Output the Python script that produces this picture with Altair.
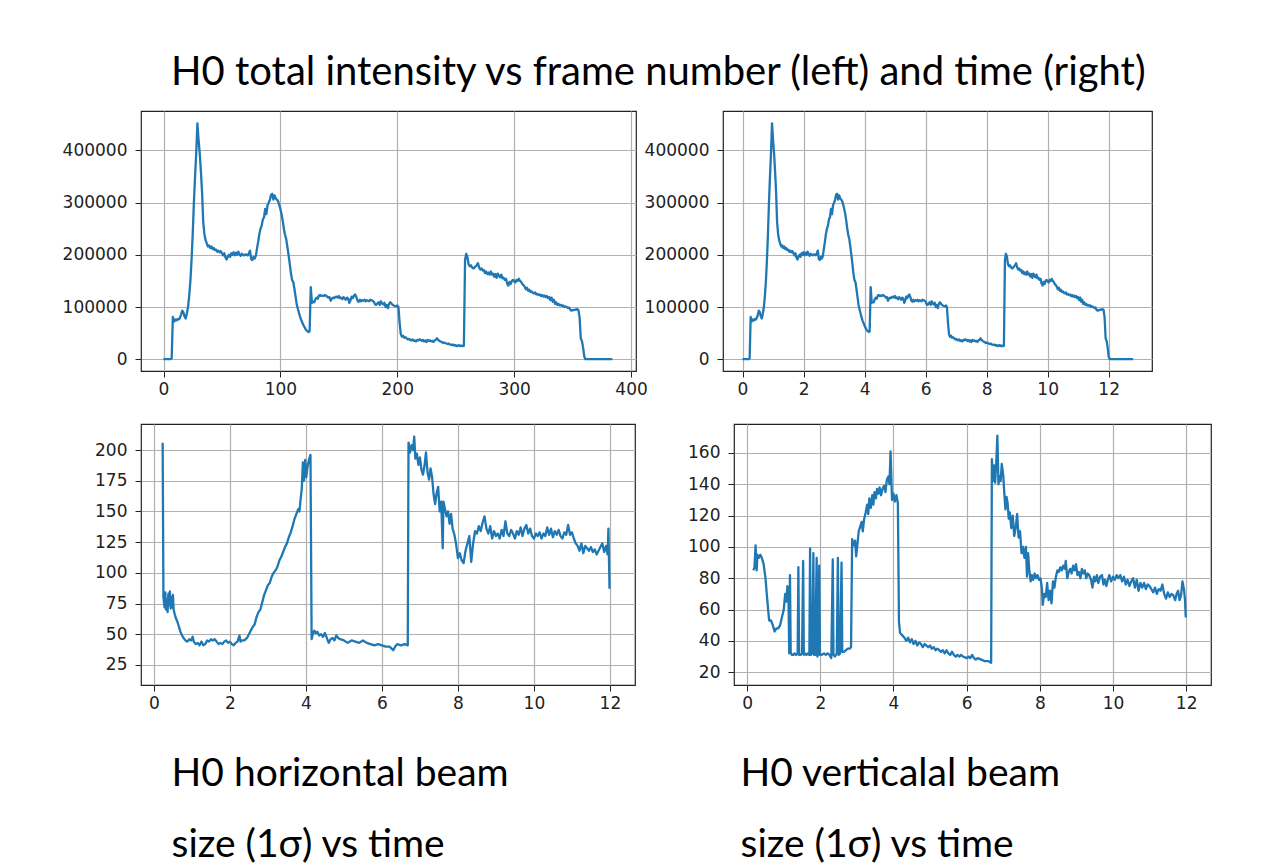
import altair as alt
import pandas as pd

# ---------------- data ----------------
FPS = 30  # frames per second (frame 384 <-> 12.8 s)

# H0 total intensity, one value per frame (frame = index)
intensity = [
    0, 0, 0, 0, 0, 0, 0, 2000, 81000, 72000,
    76000, 74000, 77000, 76000, 79000, 85000, 93000, 90000, 82000, 78000,
    88000, 100000, 122000, 150000, 190000, 240000, 300000, 350000, 395000, 452000,
    420000, 395000, 360000, 320000, 262000, 240000, 228000, 222000, 216000, 218000,
    213000, 216000, 211000, 213000, 209000, 210000, 206000, 208000, 205000, 207000,
    203000, 199000, 203000, 195000, 191000, 197000, 200000, 196000, 203000, 200000,
    205000, 199000, 204000, 200000, 206000, 201000, 198000, 202000, 200000, 199000,
    201000, 200000, 199000, 203000, 208000, 192000, 190000, 196000, 193000, 198000,
    212000, 225000, 240000, 250000, 256000, 268000, 272000, 288000, 278000, 295000,
    300000, 305000, 315000, 317000, 306000, 314000, 308000, 306000, 303000, 296000,
    288000, 278000, 265000, 250000, 238000, 230000, 215000, 200000, 183000, 165000,
    152000, 148000, 135000, 120000, 105000, 96000, 88000, 80000, 74000, 69000,
    64000, 60000, 56000, 54000, 52000, 53000, 138000, 108000, 110000, 109000,
    115000, 118000, 116000, 122000, 123000, 121000, 122000, 121000, 123000, 122000,
    120000, 118000, 119000, 112000, 116000, 118000, 117000, 119000, 120000, 118000,
    121000, 117000, 118000, 115000, 119000, 116000, 114000, 118000, 116000, 108000,
    113000, 120000, 117000, 122000, 124000, 119000, 112000, 110000, 114000, 111000,
    113000, 112000, 114000, 111000, 113000, 112000, 111000, 114000, 113000, 112000,
    110000, 105000, 104000, 107000, 109000, 104000, 111000, 107000, 105000, 108000,
    100000, 104000, 98000, 106000, 109000, 107000, 104000, 103000, 102000, 101000,
    103000, 100000, 70000, 48000, 43000, 45000, 41000, 42000, 40000, 38000,
    39000, 37000, 36000, 38000, 35000, 36000, 34000, 37000, 36000, 38000,
    37000, 35000, 37000, 34000, 36000, 33000, 37000, 35000, 36000, 34000,
    35000, 33000, 36000, 37000, 40000, 37000, 35000, 34000, 33000, 31000,
    32000, 31000, 30000, 29000, 30000, 28000, 28000, 27000, 28000, 26000,
    27000, 25000, 26000, 27000, 25000, 26000, 25000, 26000, 190000, 202000,
    196000, 182000, 178000, 180000, 176000, 174000, 175000, 178000, 180000, 184000,
    176000, 172000, 174000, 170000, 171000, 165000, 168000, 163000, 166000, 162000,
    168000, 162000, 164000, 158000, 163000, 156000, 164000, 160000, 157000, 162000,
    155000, 156000, 152000, 154000, 145000, 141000, 148000, 144000, 150000, 152000,
    149000, 147000, 152000, 150000, 154000, 150000, 148000, 144000, 142000, 139000,
    134000, 137000, 131000, 133000, 129000, 130000, 127000, 126000, 128000, 124000,
    125000, 123000, 124000, 121000, 123000, 120000, 122000, 119000, 121000, 117000,
    119000, 113000, 118000, 110000, 114000, 106000, 109000, 104000, 106000, 103000,
    104000, 102000, 103000, 100000, 101000, 100000, 98000, 99000, 95000, 93000,
    94000, 94000, 95000, 95000, 96000, 94000, 80000, 40000, 35000, 22000,
    5000, 0, 0, 0, 0, 0, 0, 0, 0, 0,
    0, 0, 0, 0, 0, 0, 0, 0, 0, 0,
    0, 0, 0, 0, 0,
]
frames = list(range(len(intensity)))
times = [f / FPS for f in frames]

# H0 horizontal beam size (1 sigma) vs time
h_time = [
    0.23, 0.25, 0.28, 0.30, 0.32, 0.34, 0.36, 0.38, 0.40, 0.42, 0.44, 0.46, 0.48, 0.50, 0.52,
    0.55, 0.58, 0.62, 0.66, 0.70, 0.74, 0.78, 0.83, 0.88, 0.93, 0.98, 1.02, 1.05, 1.10, 1.15,
    1.20, 1.25, 1.30, 1.35, 1.40, 1.45, 1.50, 1.55, 1.60, 1.65, 1.70, 1.75, 1.80, 1.85, 1.90,
    1.95, 2.00, 2.05, 2.10, 2.15, 2.20, 2.25, 2.28, 2.32, 2.38, 2.45, 2.50, 2.55, 2.60, 2.65,
    2.70, 2.75, 2.80, 2.85, 2.90, 2.95, 3.00, 3.05, 3.10, 3.15, 3.20, 3.25, 3.30, 3.35, 3.40,
    3.45, 3.50, 3.55, 3.60, 3.65, 3.70, 3.75, 3.80, 3.83, 3.86, 3.89, 3.92, 3.95, 3.98, 4.01,
    4.04, 4.08, 4.12, 4.15, 4.18, 4.22, 4.26, 4.30, 4.35, 4.40, 4.45, 4.50, 4.55, 4.60, 4.65,
    4.70, 4.75, 4.80, 4.85, 4.90, 5.00, 5.10, 5.20, 5.30, 5.40, 5.50, 5.60, 5.70, 5.80, 5.90,
    6.00, 6.10, 6.20, 6.30, 6.35, 6.40, 6.50, 6.60, 6.68, 6.70, 6.74, 6.78, 6.82, 6.85, 6.88,
    6.92, 6.96, 7.00, 7.04, 7.08, 7.12, 7.16, 7.20, 7.24, 7.28, 7.32, 7.36, 7.40, 7.44, 7.48,
    7.52, 7.56, 7.60, 7.62, 7.66, 7.70, 7.74, 7.78, 7.82, 7.86, 7.90, 7.95, 8.00, 8.05, 8.10,
    8.15, 8.20, 8.25, 8.30, 8.35, 8.40, 8.45, 8.50, 8.55, 8.60, 8.65, 8.70, 8.75, 8.80, 8.85,
    8.90, 8.95, 9.00, 9.05, 9.10, 9.15, 9.20, 9.25, 9.30, 9.35, 9.40, 9.45, 9.50, 9.55, 9.60,
    9.65, 9.70, 9.75, 9.80, 9.85, 9.90, 9.95, 10.00, 10.05, 10.10, 10.15, 10.20, 10.25, 10.30, 10.35,
    10.40, 10.45, 10.50, 10.55, 10.60, 10.65, 10.70, 10.75, 10.80, 10.85, 10.90, 10.95, 11.00, 11.05, 11.10,
    11.15, 11.20, 11.25, 11.30, 11.35, 11.40, 11.45, 11.50, 11.55, 11.60, 11.65, 11.70, 11.75, 11.80, 11.85,
    11.90, 11.94, 11.96, 11.99,
]
h_size = [
    206, 80, 72, 84, 70, 78, 68, 83, 74, 85, 71, 80, 72, 82, 70,
    66, 63, 60, 56, 52, 49, 47, 45, 44, 46, 45, 48, 44, 42, 43,
    41, 44, 41, 42, 45, 44, 46, 45, 46, 44, 42, 43, 42, 44, 45,
    43, 44, 42, 41, 43, 44, 49, 44, 45, 45, 47, 50, 53, 56, 58,
    64, 68, 70, 76, 82, 86, 90, 92, 97, 100, 102, 105, 110, 113, 117,
    121, 124, 129, 133, 138, 144, 148, 152, 150, 160, 168, 190, 175, 192, 178,
    186, 192, 196, 46, 50, 53, 51, 52, 49, 50, 48, 51, 47, 43, 46,
    47, 45, 49, 47, 46, 45, 43, 45, 44, 43, 45, 43, 42, 41, 42,
    41, 40, 40, 37, 40, 42, 41, 42, 41, 206, 198, 204, 200, 211, 193,
    197, 188, 194, 184, 180, 187, 198, 182, 176, 185, 178, 164, 156, 165, 170,
    150, 158, 120, 158, 152, 146, 150, 140, 148, 136, 132, 124, 112, 116, 110,
    108, 118, 124, 130, 109, 124, 134, 132, 138, 134, 141, 146, 136, 132, 138,
    128, 134, 130, 132, 128, 135, 130, 142, 132, 130, 135, 132, 128, 134, 131,
    137, 130, 136, 139, 132, 136, 130, 128, 132, 130, 133, 128, 132, 130, 137,
    131, 136, 129, 134, 131, 135, 130, 128, 133, 131, 139, 131, 133, 128, 124,
    122, 118, 124, 116, 122, 120, 118, 121, 117, 119, 115, 118, 121, 124, 117,
    122, 115, 136, 87,
]

# H0 vertical beam size (1 sigma) vs time
v_time = [
    0.17, 0.20, 0.23, 0.26, 0.28, 0.32, 0.36, 0.40, 0.45, 0.50, 0.55, 0.60, 0.65, 0.70, 0.75,
    0.80, 0.85, 0.90, 0.95, 1.00, 1.04, 1.07, 1.10, 1.13, 1.15, 1.17, 1.19, 1.22, 1.26, 1.30,
    1.34, 1.38, 1.40, 1.42, 1.46, 1.50, 1.53, 1.55, 1.58, 1.62, 1.66, 1.70, 1.72, 1.74, 1.78,
    1.81, 1.83, 1.86, 1.90, 1.92, 1.95, 1.97, 1.99, 2.03, 2.10, 2.15, 2.20, 2.25, 2.30, 2.34,
    2.36, 2.40, 2.45, 2.48, 2.50, 2.54, 2.58, 2.60, 2.65, 2.70, 2.75, 2.80, 2.84, 2.87, 2.91,
    2.95, 2.98, 3.02, 3.05, 3.09, 3.13, 3.16, 3.20, 3.24, 3.28, 3.31, 3.34, 3.38, 3.42, 3.45,
    3.48, 3.52, 3.55, 3.59, 3.62, 3.66, 3.70, 3.74, 3.78, 3.82, 3.86, 3.89, 3.92, 3.96, 4.00,
    4.04, 4.08, 4.12, 4.15, 4.18, 4.22, 4.26, 4.30, 4.35, 4.40, 4.45, 4.50, 4.55, 4.60, 4.65,
    4.70, 4.75, 4.80, 4.85, 4.90, 4.95, 5.00, 5.05, 5.10, 5.15, 5.20, 5.25, 5.30, 5.35, 5.40,
    5.45, 5.50, 5.55, 5.60, 5.65, 5.70, 5.75, 5.80, 5.85, 5.90, 6.00, 6.05, 6.10, 6.15, 6.20,
    6.25, 6.30, 6.40, 6.50, 6.60, 6.67, 6.69, 6.72, 6.75, 6.78, 6.81, 6.84, 6.87, 6.90, 6.93,
    6.96, 7.00, 7.03, 7.06, 7.09, 7.12, 7.15, 7.18, 7.22, 7.26, 7.30, 7.34, 7.38, 7.42, 7.46,
    7.50, 7.54, 7.58, 7.62, 7.65, 7.68, 7.71, 7.75, 7.78, 7.82, 7.86, 7.90, 7.94, 7.98, 8.02,
    8.06, 8.08, 8.12, 8.16, 8.20, 8.24, 8.28, 8.32, 8.36, 8.40, 8.44, 8.48, 8.52, 8.56, 8.60,
    8.64, 8.68, 8.71, 8.75, 8.79, 8.83, 8.87, 8.91, 8.95, 8.99, 9.03, 9.07, 9.11, 9.15, 9.19,
    9.23, 9.27, 9.31, 9.35, 9.40, 9.44, 9.48, 9.52, 9.56, 9.60, 9.65, 9.70, 9.74, 9.78, 9.82,
    9.86, 9.90, 9.95, 10.00, 10.05, 10.10, 10.15, 10.20, 10.25, 10.30, 10.35, 10.40, 10.45, 10.50, 10.55,
    10.60, 10.65, 10.70, 10.75, 10.80, 10.85, 10.90, 10.95, 11.00, 11.05, 11.10, 11.15, 11.20, 11.25, 11.30,
    11.35, 11.40, 11.45, 11.50, 11.55, 11.60, 11.65, 11.70, 11.74, 11.78, 11.82, 11.86, 11.90, 11.94, 11.97,
    11.99,
]
v_size = [
    85, 87, 101, 85, 95, 93, 95, 93, 89, 80, 66, 53, 53, 50, 46,
    48, 48, 50, 55, 60, 70, 65, 75, 68, 32, 82, 33, 31, 31, 32,
    31, 32, 87, 31, 31, 32, 91, 31, 32, 31, 32, 31, 99, 31, 32,
    96, 31, 31, 93, 30, 33, 88, 31, 31, 32, 31, 32, 31, 29, 92,
    31, 30, 32, 93, 31, 32, 90, 33, 33, 34, 35, 35, 36, 105, 101,
    104, 94, 103, 110, 113, 116, 110, 118, 122, 127, 121, 131, 125, 133, 127,
    135, 131, 137, 134, 138, 133, 137, 139, 135, 143, 145, 140, 161, 130, 134,
    129, 133, 128, 52, 45, 44, 43, 42, 40, 42, 39, 41, 38, 40, 37,
    39, 38, 36, 38, 37, 36, 37, 35, 36, 34, 35, 34, 33, 34, 32,
    34, 32, 31, 33, 31, 30, 31, 30, 31, 30, 29, 30, 29, 31, 29,
    28, 29, 28, 27, 27, 26, 156, 142, 152, 141, 154, 171, 140, 145, 142,
    153, 146, 134, 124, 132, 128, 118, 122, 112, 120, 107, 112, 121, 106, 110,
    96, 100, 93, 100, 81, 96, 86, 78, 82, 79, 83, 80, 82, 79, 80,
    73, 63, 70, 68, 77, 66, 72, 64, 78, 74, 81, 85, 84, 87, 85,
    88, 86, 91, 80, 84, 86, 83, 88, 85, 89, 82, 84, 80, 86, 83,
    85, 80, 83, 82, 79, 74, 81, 78, 82, 77, 81, 82, 76, 79, 75,
    79, 82, 78, 81, 79, 82, 80, 82, 78, 81, 76, 79, 75, 78, 80,
    74, 79, 72, 77, 74, 77, 73, 76, 75, 73, 71, 74, 70, 73, 72,
    76, 70, 67, 71, 68, 70, 69, 66, 70, 72, 66, 69, 78, 73, 66,
    55,
]

# tick values
frame_ticks = [0, 100, 200, 300, 400]
time_ticks = [0, 2, 4, 6, 8, 10, 12]
int_ticks = [0, 100000, 200000, 300000, 400000]
h_ticks = [25, 50, 75, 100, 125, 150, 175, 200]
v_ticks = [20, 40, 60, 80, 100, 120, 140, 160]

TITLE = "H0 total intensity vs frame number (left) and time (right)"
H_LABEL = ["H0 horizontal beam", "size (1σ) vs time"]
V_LABEL = ["H0 verticalal beam", "size (1σ) vs time"]

# ---------------- chart ----------------
LINE = "#1f77b4"
TEXT_FONT = "Lato"
TITLE_SIZE = 40
LABEL_SIZE = 39

df_int = pd.DataFrame({"frame": frames, "time": times, "intensity": intensity})
df_h = pd.DataFrame({"time": h_time, "size": h_size})
df_v = pd.DataFrame({"time": v_time, "size": v_size})


def panel(df, xf, yf, xdom, ydom, xticks, yticks, w, h, xtitle=None, xtitle_x=0, title=None):
    xa = dict(values=xticks, format="d", labelPadding=4)
    if xtitle is not None:
        xa.update(
            titleFont=TEXT_FONT, titleFontSize=LABEL_SIZE,
            titleFontWeight="normal", titleColor="#000", titleAlign="left",
            titleAnchor="start", titleX=xtitle_x, titleY=100,
            titleBaseline="alphabetic", titleLineHeight=71,
        )
    x_enc = alt.X(f"{xf}:Q", scale=alt.Scale(domain=xdom, nice=False, zero=False),
                  axis=alt.Axis(**xa), title=xtitle if xtitle is not None else None)
    y_enc = alt.Y(f"{yf}:Q", scale=alt.Scale(domain=ydom, nice=False, zero=False),
                  axis=alt.Axis(values=yticks, format="d", labelPadding=8), title=None)
    props = dict(width=w, height=h)
    if title is not None:
        props["title"] = alt.TitleParams(
            text=title, anchor="start", frame="group", dx=30, offset=-14,
            font=TEXT_FONT, fontSize=TITLE_SIZE, fontWeight="normal",
            color="#000", baseline="alphabetic",
        )
    return alt.Chart(df).mark_line(color=LINE, strokeWidth=2.3, strokeJoin="round").encode(
        x=x_enc, y=y_enc
    ).properties(**props)


p1 = panel(df_int, "frame", "intensity", [-19.25, 404.25], [-22650, 475650],
           frame_ticks, int_ticks, 495, 260, title=TITLE)
p2 = panel(df_int, "time", "intensity", [-0.64, 13.42], [-22650, 475650],
           time_ticks, int_ticks, 429, 260)
p3 = panel(df_h, "time", "size", [-0.34, 12.66], [8.7, 221.2],
           time_ticks, h_ticks, 494, 261, xtitle=H_LABEL, xtitle_x=30)
p4 = panel(df_v, "time", "size", [-0.36, 12.68], [11.8, 178.5],
           time_ticks, v_ticks, 477, 261, xtitle=V_LABEL, xtitle_x=6)

row1 = alt.hconcat(p1, p2, spacing=87, bounds="flush")
row2 = alt.hconcat(p3, p4, spacing=99, bounds="flush")

chart = alt.vconcat(row1, row2, spacing=25).properties(
    padding={"left": 61, "top": 52, "right": 0, "bottom": 0},
    background="white",
).configure_axis(
    labelFont="DejaVu Sans",
    labelFontSize=17,
    labelColor="#222",
    tickColor="#222",
    tickSize=6,
    tickWidth=1,
    grid=True,
    gridColor="#b0b0b0",
    gridWidth=1.2,
    domain=False,
    labelOverlap=False,
    labelFlush=False,
).configure_view(
    stroke="#222",
    strokeWidth=1.2,
)

chart.save("out.html", embed_options={"renderer": "svg", "actions": False})
